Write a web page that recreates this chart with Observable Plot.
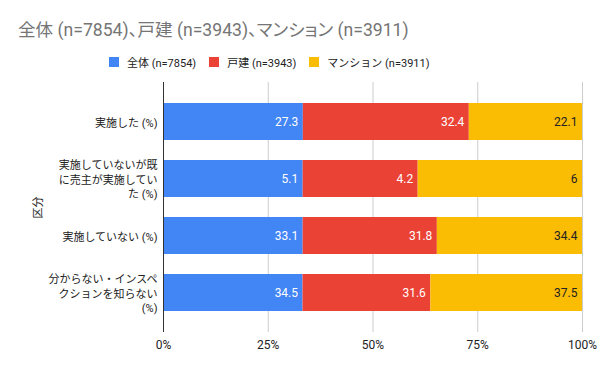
<!DOCTYPE html>
<html>
<head>
<meta charset="utf-8">
<script src="https://cdn.jsdelivr.net/npm/d3@7"></script>
<script src="https://cdn.jsdelivr.net/npm/@observablehq/plot@0.6"></script>
<style>
  html, body { margin: 0; padding: 0; background: #fff; }
  body { width: 600px; height: 371px; position: relative; overflow: hidden;
         font-family: Roboto, "Noto Sans CJK JP", sans-serif; }
  #title { position: absolute; left: 18px; top: 18px; font-size: 17.6px; color: #757575; white-space: nowrap; line-height: 24px; font-feature-settings: "palt"; }
  #legend { position: absolute; left: 109px; top: 54px; height: 16px; display: flex; align-items: center; font-size: 11px; color: #222; white-space: nowrap; }
  #legend .item { display: flex; align-items: center; margin-right: 13px; }
  #legend .sw { width: 10px; height: 10px; margin-right: 8px; }
  #chart { position: absolute; left: 0; top: 75px; }
</style>
</head>
<body>
<div id="title"></div>
<div id="legend"></div>
<div id="chart"></div>
<script>
const titleText = "全体 (n=7854)、戸建 (n=3943)、マンション (n=3911)";
const series = ["全体 (n=7854)", "戸建 (n=3943)", "マンション (n=3911)"];
const colors = ["#4285F4", "#EA4335", "#FBBC04"];
const categories = [
  "実施した (%)",
  "実施していないが既に売主が実施していた (%)",
  "実施していない (%)",
  "分からない・インスペクションを知らない (%)"
];
const categoryLabels = [
  "実施した (%)",
  "実施していないが既\nに売主が実施してい\nた (%)",
  "実施していない (%)",
  "分からない・インスペ\nクションを知らない\n(%)"
];
const valuesAll = [27.3, 5.1, 33.1, 34.5];
const valuesHouse = [32.4, 4.2, 31.8, 31.6];
const valuesMansion = [22.1, 6, 34.4, 37.5];
const xTicks = [0, 0.25, 0.5, 0.75, 1];

const seriesValues = [valuesAll, valuesHouse, valuesMansion];
const data = [];
series.forEach((s, si) => {
  categories.forEach((c, ci) => {
    data.push({series: s, category: c, value: seriesValues[si][ci]});
  });
});
const labelOf = new Map(categories.map((c, i) => [c, categoryLabels[i]]));
const textColor = new Map([[series[0], "#ffffff"], [series[1], "#ffffff"], [series[2], "#222222"]]);

document.getElementById("title").textContent = titleText;
const legend = document.getElementById("legend");
series.forEach((s, i) => {
  const item = document.createElement("div");
  item.className = "item";
  const sw = document.createElement("div");
  sw.className = "sw";
  sw.style.background = colors[i];
  const t = document.createElement("span");
  t.textContent = s;
  item.appendChild(sw);
  item.appendChild(t);
  legend.appendChild(item);
});

const chart = Plot.plot({
  width: 600,
  height: 296,
  marginTop: 7,
  marginBottom: 39,
  marginLeft: 163,
  marginRight: 18,
  style: {fontFamily: 'Roboto, "Noto Sans CJK JP", sans-serif', fontSize: "11px", color: "#222", background: "#fff"},
  x: {domain: [0, 1]},
  y: {domain: categories, paddingInner: 0.35, paddingOuter: 0.34},
  color: {domain: series, range: colors},
  marks: [
    Plot.gridX(xTicks, {stroke: "#cccccc", strokeOpacity: 1}),
    Plot.barX(data, Plot.stackX({offset: "normalize", x: "value", y: "category", z: "series", fill: "series", order: null})),
    Plot.text(data, Plot.stackX2({offset: "normalize", x: "value", y: "category", z: "series", order: null,
      text: d => String(d.value), fill: d => textColor.get(d.series), textAnchor: "end", dx: -5, fontSize: 12})),
    Plot.ruleX([0], {stroke: "#333333"}),
    Plot.axisX({ticks: xTicks, tickFormat: d3.format(".0%"), tickSize: 0, tickPadding: 8, fontSize: 12, label: null}),
    Plot.axisY({tickSize: 0, tickPadding: 6, tickFormat: c => labelOf.get(c), lineHeight: 1.32,
      label: "区分", labelAnchor: "center", labelOffset: 129, labelArrow: "none"})
  ]
});
document.getElementById("chart").appendChild(chart);
</script>
</body>
</html>
